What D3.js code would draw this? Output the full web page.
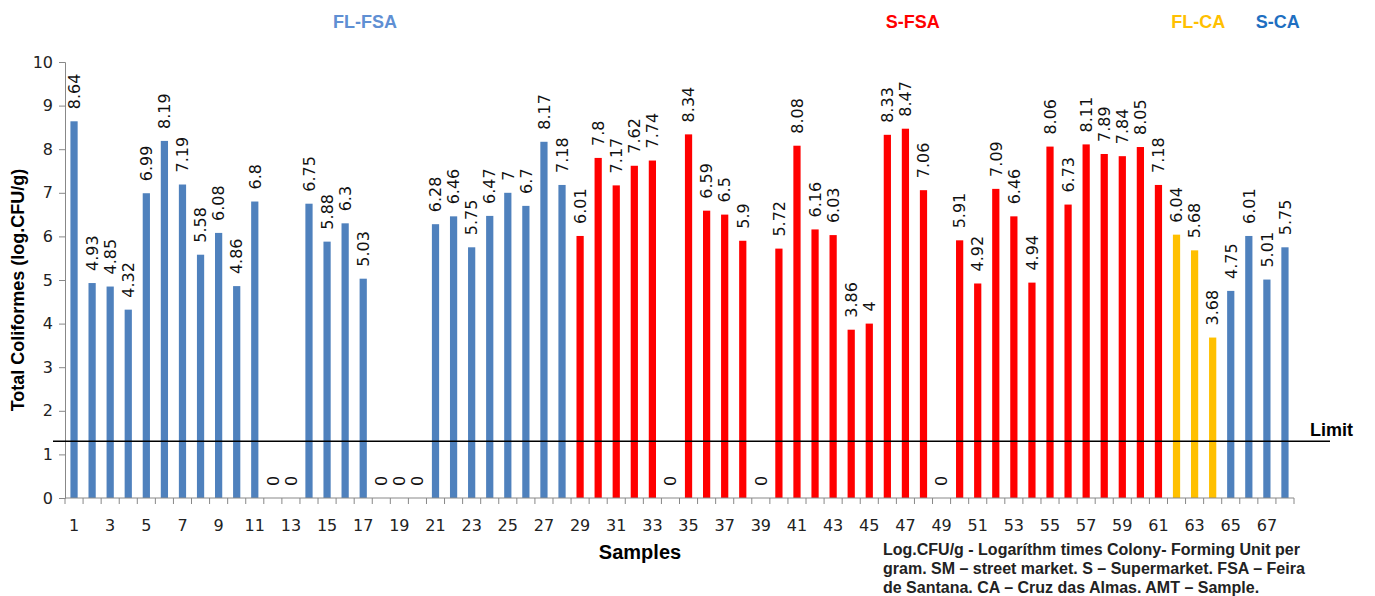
<!DOCTYPE html>
<html>
<head>
<meta charset="utf-8">
<script src="https://cdn.jsdelivr.net/npm/d3@7"></script>
<style>
  body { margin: 0; background: #fff; }
  text { font-family: "DejaVu Sans", Verdana, sans-serif; }
</style>
</head>
<body>
<svg id="chart" width="1375" height="596"></svg>
<script>
// sample numbers 1..68 and Total Coliformes (log CFU/g)
const samples = d3.range(1, 69);
const values = [
  8.64, 4.93, 4.85, 4.32, 6.99, 8.19, 7.19, 5.58, 6.08, 4.86,
  6.8, 0, 0, 6.75, 5.88, 6.3, 5.03, 0, 0, 0,
  6.28, 6.46, 5.75, 6.47, 7, 6.7, 8.17, 7.18, 6.01, 7.8,
  7.17, 7.62, 7.74, 0, 8.34, 6.59, 6.5, 5.9, 0, 5.72,
  8.08, 6.16, 6.03, 3.86, 4, 8.33, 8.47, 7.06, 0, 5.91,
  4.92, 7.09, 6.46, 4.94, 8.06, 6.73, 8.11, 7.89, 7.84, 8.05,
  7.18, 6.04, 5.68, 3.68, 4.75, 6.01, 5.01, 5.75
];
// group of each sample (first sample, last sample)
const groups = ["FL-FSA", "S-FSA", "FL-CA", "S-CA"];
const groupStart = [1, 29, 62, 65];
const groupEnd = [28, 61, 64, 68];
const yTicks = d3.range(0, 11);
const limitValue = 1.3;
const footnote = [
  "Log.CFU/g - Logaríthm times Colony- Forming Unit per",
  "gram. SM – street market. S – Supermarket. FSA – Feira",
  "de Santana. CA – Cruz das Almas. AMT – Sample."
];

const svg = d3.select("#chart");

// 颜色
const barColor = d3.scaleOrdinal().domain(groups).range(["#4f81bd", "#ff0000", "#ffc000", "#4f81bd"]);
const headColor = d3.scaleOrdinal().domain(groups).range(["#5f8fd3", "#ff0000", "#ffc000", "#1f6fc1"]);
// header centres, in sample units
const headAt = { "FL-FSA": 17.1, "S-FSA": 47.4, "FL-CA": 63.2, "S-CA": 67.6 };

function groupOf(s) {
  for (let i = 0; i < groups.length; i++) {
    if (s >= groupStart[i] && s <= groupEnd[i]) return groups[i];
  }
}

const data = samples.map((s, i) => ({ s: s, v: values[i], g: groupOf(s) }));

const x = d3.scaleBand()
  .domain(samples)
  .range([65, 1294])
  .paddingInner(0.6)
  .paddingOuter(0.3);

const y = d3.scaleLinear()
  .domain([0, 10])
  .range([498, 62]);

const step = x.step();
const cx = s => x(s) + x.bandwidth() / 2;

// bars
svg.append("g")
  .selectAll("rect")
  .data(data)
  .enter()
  .append("rect")
  .attr("x", d => x(d.s))
  .attr("y", d => y(d.v))
  .attr("width", x.bandwidth())
  .attr("height", d => y(0) - y(d.v))
  .attr("fill", d => barColor(d.g));

// y axis
const yAxis = svg.append("g")
  .attr("transform", "translate(65,0)")
  .call(d3.axisLeft(y).tickValues(yTicks).tickSize(6).tickPadding(6));
yAxis.select(".domain").attr("stroke", "#888");
yAxis.selectAll(".tick line").attr("stroke", "#888");
yAxis.selectAll(".tick text")
  .attr("font-size", 16)
  .attr("fill", "#222")
  .style("font-family", "DejaVu Sans, sans-serif");

// x axis: line, ticks between categories, labels on odd samples
const xg = svg.append("g");
xg.append("line")
  .attr("x1", x.range()[0]).attr("x2", x.range()[1])
  .attr("y1", y(0)).attr("y2", y(0))
  .attr("stroke", "#888");
xg.selectAll(".sep")
  .data(samples.concat([samples.length + 1]))
  .enter()
  .append("line")
  .attr("x1", s => x.range()[0] + (s - 1) * step)
  .attr("x2", s => x.range()[0] + (s - 1) * step)
  .attr("y1", y(0)).attr("y2", y(0) + 6)
  .attr("stroke", "#888");
xg.selectAll(".lab")
  .data(samples.filter(s => s % 2 === 1))
  .enter()
  .append("text")
  .attr("x", s => cx(s))
  .attr("y", 531)
  .attr("text-anchor", "middle")
  .attr("font-size", 16)
  .attr("fill", "#222")
  .text(s => s);

// value labels (rotated)
svg.append("g")
  .selectAll("text")
  .data(data)
  .enter()
  .append("text")
  .attr("transform", d => `translate(${cx(d.s)},${y(d.v) - 12}) rotate(-90)`)
  .attr("dy", "0.36em")
  .attr("font-size", 16)
  .attr("fill", "#111")
  .text(d => d.v);

// limit line
svg.append("line")
  .attr("x1", 53).attr("x2", 1330)
  .attr("y1", y(limitValue)).attr("y2", y(limitValue))
  .attr("stroke", "#000")
  .attr("stroke-width", 1.5);
svg.append("text")
  .attr("x", 1310).attr("y", y(limitValue) - 5)
  .attr("font-size", 18)
  .attr("font-weight", "bold")
  .style("font-family", "Liberation Sans, Arial, sans-serif")
  .text("Limit");

// group headers
svg.append("g")
  .selectAll("text")
  .data(groups)
  .enter()
  .append("text")
  .attr("x", g => x.range()[0] + (headAt[g] - 0.5) * step)
  .attr("y", 28)
  .attr("text-anchor", "middle")
  .attr("font-size", 18)
  .attr("font-weight", "bold")
  .attr("fill", g => headColor(g))
  .style("font-family", "Liberation Sans Narrow, Liberation Sans, Arial, sans-serif")
  .text(g => g);

// axis titles
svg.append("text")
  .attr("transform", `translate(24,${(y(0) + y(10)) / 2 + 10}) rotate(-90)`)
  .attr("text-anchor", "middle")
  .attr("font-size", 18)
  .attr("font-weight", "bold")
  .style("font-family", "Liberation Sans, Arial, sans-serif")
  .text("Total Coliformes (log.CFU/g)");

svg.append("text")
  .attr("x", 640).attr("y", 559)
  .attr("text-anchor", "middle")
  .attr("font-size", 20)
  .attr("font-weight", "bold")
  .style("font-family", "Liberation Sans, Arial, sans-serif")
  .text("Samples");

// footnote
svg.append("g")
  .selectAll("text")
  .data(footnote)
  .enter()
  .append("text")
  .attr("x", 883)
  .attr("y", (d, i) => 555 + i * 19)
  .attr("font-size", 16)
  .attr("font-weight", "bold")
  .attr("fill", "#222")
  .style("font-family", "Liberation Sans, Arial, sans-serif")
  .text(d => d);
</script>
</body>
</html>
